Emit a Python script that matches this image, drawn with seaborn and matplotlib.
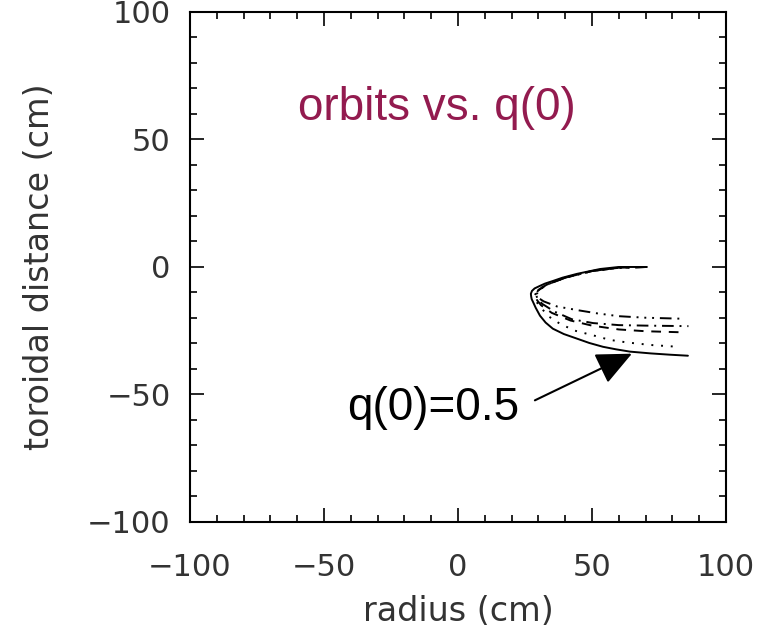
import numpy as np
import pandas as pd
import matplotlib
matplotlib.use("Agg")
import matplotlib.pyplot as plt
from matplotlib.ticker import MultipleLocator
import seaborn as sns

sns.set_style("ticks")
plt.rcParams["font.family"] = ["DejaVu Sans"]

# orbit traces (radius, toroidal distance in cm)
# solid one is q(0)=0.5, the others are the remaining q(0) values
x_solid = [70.5, 60, 53, 44.4, 39, 35.4, 32.5, 30.6, 28.6, 27.6, 27.2, 27.3, 27.5, 28.0, 29.0, 30.6, 32.7,
           35.4, 39.5, 44.4, 49, 54.1, 59, 64.2, 72, 79.1, 85.8]
y_solid = [0, 0, -0.8, -2.7, -4.2, -5.5, -6.5, -7.4, -8.4, -9.4, -10.5, -11.5, -12.6, -13.7, -16.0, -19.1, -21.8,
           -24.2, -26.3, -28.1, -29.8, -31.3, -32.3, -33.2, -33.9, -34.4, -34.8]

x_dot = [70.5, 60, 50, 40, 33, 29.8, 28.6, 29.2, 30.6, 34, 38.1, 43.7, 50.4, 56.7, 63.1, 72, 82.1]
y_dot = [0, -0.3, -1.6, -4.2, -7.0, -9.0, -11.2, -13.5, -15.6, -19.5, -22.3, -25.0, -26.8, -28.6, -29.6, -30.6, -31.3]

x_dash = [70.5, 60, 50, 40, 33, 30, 29, 29.5, 31, 35, 42, 50, 60, 70, 83]
y_dash = [0, -0.3, -1.6, -4.2, -7.0, -9.0, -11.0, -13.0, -15.0, -18.0, -21.0, -23.0, -24.5, -25.2, -25.6]

x_dashdot = [70.5, 60, 50, 40, 33, 30.2, 29.2, 29.6, 31.5, 36, 42.5, 50.4, 60, 70, 86]
y_dashdot = [0, -0.3, -1.6, -4.2, -7.0, -9.0, -10.8, -12.5, -14.5, -17.5, -20.5, -22.0, -22.8, -23.0, -23.2]

x_dashdotdot = [70.5, 60, 50, 40, 33, 30.4, 29.4, 29.8, 32, 37, 45, 52, 60, 70, 84]
y_dashdotdot = [0, -0.3, -1.6, -4.2, -7.0, -9.0, -10.6, -12.0, -13.5, -15.5, -17.0, -18.2, -19.3, -19.9, -20.3]

curves = [
    (x_solid, y_solid, "-"),
    (x_dot, y_dot, (0, (1, 4))),
    (x_dash, y_dash, (0, (5, 4))),
    (x_dashdot, y_dashdot, (0, (6, 3, 1, 3))),
    (x_dashdotdot, y_dashdotdot, (0, (6, 3, 1, 3, 1, 3, 1, 3))),
]

fig = plt.figure(figsize=(7.67, 6.34), dpi=100)
ax = fig.add_axes([0.2477, 0.1767, 0.6988, 0.8044])

for xs, ys, ls in curves:
    sns.lineplot(x=xs, y=ys, sort=False, estimator=None, errorbar=None,
                 color="black", linestyle=ls, lw=1.4, ax=ax)

ax.set_xlim(-100, 100)
ax.set_ylim(-100, 100)
ax.xaxis.set_major_locator(MultipleLocator(50))
ax.xaxis.set_minor_locator(MultipleLocator(10))
ax.yaxis.set_major_locator(MultipleLocator(50))
ax.yaxis.set_minor_locator(MultipleLocator(10))
ax.tick_params(which="both", direction="in", top=True, right=True, width=1.2, color="black")
ax.tick_params(which="major", length=10)
ax.tick_params(which="minor", length=5)
ax.tick_params(axis="x", which="major", labelsize=22, pad=22)
ax.tick_params(axis="y", which="major", labelsize=22, pad=14)
for s in ax.spines.values():
    s.set_visible(True)
    s.set_linewidth(1.5)
    s.set_color("black")

ax.set_xlabel("radius (cm)", fontsize=24, color="#333333", labelpad=10)
ax.set_ylabel("toroidal distance (cm)", fontsize=24, color="#333333", labelpad=22)
ax.tick_params(labelcolor="#333333")

ax.text(-59.7, 57.8, "orbits vs. q(0)", fontsize=33, color="#931b4f",
        family=["Liberation Sans", "DejaVu Sans"], ha="left", va="baseline")
ax.text(-41.4, -60.2, "q(0)=0.5", fontsize=33, color="black",
        family=["Liberation Sans", "DejaVu Sans"], ha="left", va="baseline")
ax.annotate("", xy=(64.9, -34.0), xytext=(28.7, -52.3),
            arrowprops=dict(arrowstyle="-|>,head_length=1.1,head_width=0.5", color="black", lw=1.5,
                            shrinkA=0, shrinkB=0, mutation_scale=20))

fig.savefig("out.png", dpi=100)
